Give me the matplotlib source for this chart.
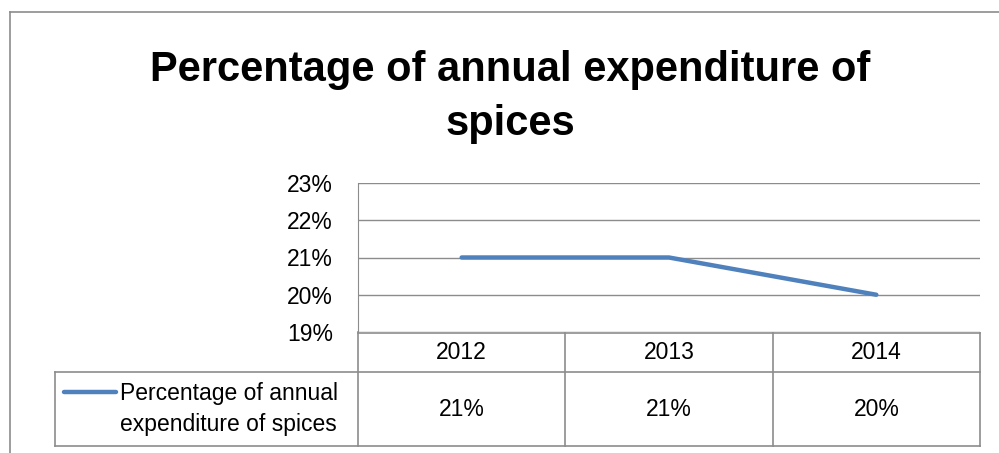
import numpy as np
import matplotlib.pyplot as plt
from matplotlib.lines import Line2D

years = ['2012', '2013', '2014']
pct = [0.21, 0.21, 0.20]
pct_labels = ['21%', '21%', '20%']
serie = 'Percentage of annual\nexpenditure of spices'
titulo = 'Percentage of annual expenditure of\nspices'

W, H = 999, 453
plt.rcParams['font.family'] = ['Liberation Sans', 'DejaVu Sans']

fig = plt.figure(figsize=(W / 100, H / 100), dpi=100)

# pixeles (desde arriba a la izquierda) a fraccion de figura
def fx(x):
    return x / W

def fy(y):
    return 1 - y / H

gris = '#8c8c8c'
azul = '#4f81bd'
fs = 16.5

# borde exterior del grafico
fig.add_artist(Line2D([fx(10), fx(999)], [fy(12), fy(12)], color=gris, lw=1.2))
fig.add_artist(Line2D([fx(10), fx(10)], [fy(12), fy(453)], color=gris, lw=1.2))

fig.text(fx(510), fy(97), titulo, ha='center', va='center', fontsize=30,
         fontweight='bold', linespacing=1.48)

x0, x1 = 358, 980
y_top, y_bot = 183, 332
ax = fig.add_axes([fx(x0), fy(y_bot), fx(x1) - fx(x0), fy(y_top) - fy(y_bot)])
x = np.arange(len(years))
ax.plot(x, pct, color=azul, lw=3.2, solid_capstyle='round')
ax.set_xlim(-0.5, len(years) - 0.5)
ax.set_ylim(0.19, 0.23)
ax.set_yticks([0.19, 0.20, 0.21, 0.22, 0.23])
ax.set_yticklabels(['19%', '20%', '21%', '22%', '23%'], fontsize=fs)
ax.tick_params(axis='y', length=0, pad=18)
ax.set_xticks([])
ax.grid(axis='y', color=gris, lw=1)
for lado in ['top', 'right', 'bottom']:
    ax.spines[lado].set_visible(False)
ax.spines['left'].set_color(gris)
ax.set_axisbelow(True)

# tabla de datos debajo del grafico
r0, r1, r2 = 333, 372, 446
leg_x = 55
ancho_col = (x1 - x0) / len(years)
lineas = [
    ([x0, x1], [r0, r0]),
    ([leg_x, x1], [r1, r1]),
    ([leg_x, x1], [r2, r2]),
    ([leg_x, leg_x], [r1, r2]),
    ([x0, x0], [y_bot, r2]),
]
for i in range(1, len(years) + 1):
    xc = x0 + i * ancho_col
    lineas.append(([xc, xc], [r0, r2]))
for xs, ys in lineas:
    fig.add_artist(Line2D([fx(v) for v in xs], [fy(v) for v in ys], color=gris, lw=1.2))

for i, (a, v) in enumerate(zip(years, pct_labels)):
    xc = x0 + (i + 0.5) * ancho_col
    fig.text(fx(xc), fy((r0 + r1) / 2), a, ha='center', va='center', fontsize=fs)
    fig.text(fx(xc), fy((r1 + r2) / 2), v, ha='center', va='center', fontsize=fs)

fig.add_artist(Line2D([fx(64), fx(116)], [fy(392), fy(392)], color=azul, lw=3.2,
                      solid_capstyle='round'))
fig.text(fx(120), fy(409), serie, ha='left', va='center', fontsize=fs, linespacing=1.45)

plt.savefig('out.png', dpi=100)
